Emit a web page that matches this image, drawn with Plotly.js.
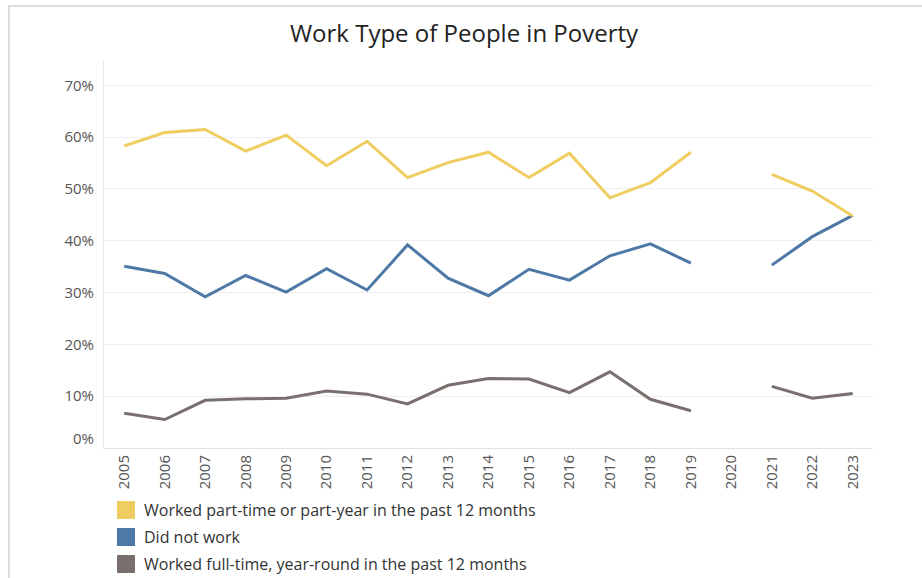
<!DOCTYPE html>
<html>
<head>
<meta charset="utf-8">
<script src="https://cdn.plot.ly/plotly-3.0.1.min.js"></script>
<style>
  html, body { margin: 0; padding: 0; background: #ffffff; }
  #wrap { position: relative; width: 922px; height: 578px; overflow: hidden; }
  #chart { width: 922px; height: 578px; }
  #frame { position: absolute; left: 8px; top: 5px; width: 930px; height: 600px;
           border-left: 2px solid #dddddd; border-top: 2px solid #dddddd; pointer-events: none; }
</style>
</head>
<body>
<div id="wrap">
  <div id="chart"></div>
  <div id="frame"></div>
</div>
<script>
// ---- data (percent of people in poverty) ----
const years = ['2005','2006','2007','2008','2009','2010','2011','2012','2013','2014',
               '2015','2016','2017','2018','2019','2020','2021','2022','2023'];
const partTime   = [58.3, 60.9, 61.5, 57.3, 60.4, 54.5, 59.2, 52.2, 55.1, 57.1,
                    52.2, 56.9, 48.3, 51.2, 57.1, null, 52.8, 49.6, 44.8];
const didNotWork = [35.1, 33.7, 29.2, 33.3, 30.1, 34.6, 30.5, 39.2, 32.8, 29.4,
                    34.5, 32.4, 37.1, 39.4, 35.7, null, 35.3, 40.8, 44.9];
const fullTime   = [6.7, 5.5, 9.2, 9.5, 9.6, 11.0, 10.4, 8.5, 12.1, 13.4,
                    13.3, 10.7, 14.7, 9.4, 7.2, null, 11.9, 9.6, 10.5];
const seriesNames  = ['Worked part-time or part-year in the past 12 months',
                      'Did not work',
                      'Worked full-time, year-round in the past 12 months'];
const seriesColors = ['#F0CD61', '#4E79A7', '#79706E'];
const yTickVals  = [10, 20, 30, 40, 50, 60, 70];
const yTickText  = ['10%', '20%', '30%', '40%', '50%', '60%', '70%'];
const titleText  = 'Work Type of People in Poverty';

// ---- layout geometry ----
const W = 922, H = 578;
const M = { l: 104, r: 49, t: 60, b: 130 };
const pw = W - M.l - M.r, ph = H - M.t - M.b;
const px2x = px => (px - M.l) / pw;
const py2y = py => (H - M.b - py) / ph;

const seriesValues = [partTime, didNotWork, fullTime];
const drawOrder = [2, 1, 0];
const traces = drawOrder.map(i => ({
  type: 'scatter', mode: 'lines', x: years, y: seriesValues[i], name: seriesNames[i],
  line: { color: seriesColors[i], width: 3 }, connectgaps: false, hoverinfo: 'skip',
  showlegend: false
}));

const font = "'Open Sans', 'Noto Sans', sans-serif";
const shapes = [], annotations = [];
const legendTop = [501, 528, 555];
seriesNames.forEach((n, i) => {
  shapes.push({ type: 'rect', xref: 'paper', yref: 'paper',
    x0: px2x(117), x1: px2x(135), y0: py2y(legendTop[i] + 18), y1: py2y(legendTop[i]),
    fillcolor: seriesColors[i], line: { width: 0 } });
  annotations.push({ xref: 'paper', yref: 'paper', x: px2x(142), y: py2y(legendTop[i] + 9),
    xanchor: 'left', yanchor: 'middle', showarrow: false, text: n,
    font: { family: font, size: 16, color: '#333333' } });
});
// 0% label sits raised inside the pane, as in the original
annotations.push({ xref: 'paper', yref: 'y', x: px2x(96), y: 0, yshift: 10,
  xanchor: 'right', yanchor: 'middle', showarrow: false, text: '0%',
  font: { family: font, size: 15, color: '#555555' } });

const layout = {
  width: W, height: H, margin: M,
  paper_bgcolor: '#ffffff', plot_bgcolor: '#ffffff',
  title: { text: titleText, x: 464 / W, xanchor: 'center', y: 1 - 34 / H, yanchor: 'middle',
           font: { family: font, size: 24, color: '#222222' } },
  xaxis: { type: 'category', range: [-0.5, 18.5], tickangle: -90, showgrid: false,
           showline: true, linecolor: '#e3e3e3', linewidth: 1, ticks: '', zeroline: false,
           tickfont: { family: font, size: 15, color: '#555555' }, fixedrange: true },
  yaxis: { range: [0, 74.9], tickvals: yTickVals, ticktext: yTickText, showgrid: true,
           gridcolor: '#efefef', gridwidth: 1, zeroline: false, showline: true,
           linecolor: '#e8e8e8', linewidth: 1, ticks: '', ticklabelstandoff: 6,
           tickfont: { family: font, size: 15, color: '#555555' }, fixedrange: true },
  shapes: shapes, annotations: annotations, showlegend: false, hovermode: false
};

Plotly.newPlot('chart', traces, layout, { displayModeBar: false, staticPlot: true });
</script>
</body>
</html>
